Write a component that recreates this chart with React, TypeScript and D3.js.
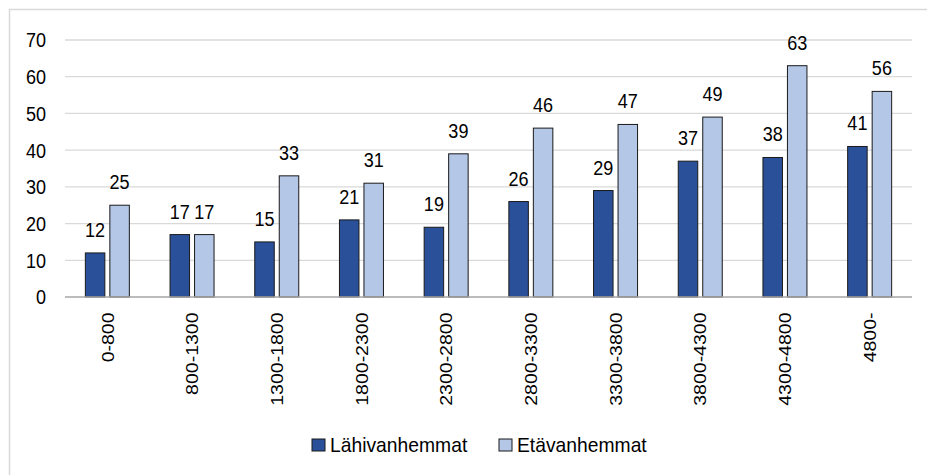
import React from "react";
import * as d3 from "d3";

const categories = ["0-800", "800-1300", "1300-1800", "1800-2300", "2300-2800", "2800-3300", "3300-3800", "3800-4300", "4300-4800", "4800-"];
const lahi = [12, 17, 15, 21, 19, 26, 29, 37, 38, 41];
const eta = [25, 17, 33, 31, 39, 46, 47, 49, 63, 56];
const seriesNames = ["Lähivanhemmat", "Etävanhemmat"];
const yTicks = [0, 10, 20, 30, 40, 50, 60, 70];

const W = 927, H = 475;
const FONT = "'Liberation Sans', Arial, sans-serif";
const COLORS = ["#2a5099", "#b4c7e7"];
const SX = 0.88;

export default function App() {
  const x = d3.scaleBand<string>().domain(categories).range([65, 912]);
  const y = d3.scaleLinear().domain([0, 70]).range([297, 40]);
  const barW = 19.5;
  const gap = 5;
  const series = [lahi, eta];
  return (
    <svg width={W} height={H} style={{ position: "absolute", left: 0, top: 0, background: "#fff" }} fontFamily={FONT}>
      <rect x={9.5} y={9.5} width={W} height={H} fill="none" stroke="#d9d9d9" strokeWidth={1.5} />
      {yTicks.map((t) => (
        <g key={t}>
          {t > 0 && <line x1={65} x2={912} y1={y(t)} y2={y(t)} stroke="#d9d9d9" strokeWidth={1.3} />}
          <text transform={`translate(46,${y(t)}) scale(${SX},1)`} dy="0.36em" textAnchor="end" fontSize={20.5} fill="#000">{t}</text>
        </g>
      ))}
      {categories.map((c, i) => {
        const cx = (x(c) as number) + x.bandwidth() / 2;
        return (
          <g key={c}>
            {series.map((s, k) => {
              const bx = k === 0 ? cx - gap / 2 - barW : cx + gap / 2;
              return (
                <g key={k}>
                  <rect x={bx} y={y(s[i])} width={barW} height={y(0) - y(s[i])} fill={COLORS[k]} stroke="#1a1a1a" strokeWidth={1} />
                  <text transform={`translate(${bx + barW / 2},${y(s[i]) - 16}) scale(${SX},1)`} textAnchor="middle" fontSize={20.5} fill="#000">{s[i]}</text>
                </g>
              );
            })}
            <text transform={`translate(${cx},312.5) scale(${SX},1) rotate(-90)`} dy="0.36em" textAnchor="end" fontSize={19.5} fill="#000">{c}</text>
          </g>
        );
      })}
      <line x1={65} x2={912} y1={y(0)} y2={y(0)} stroke="#a6a6a6" strokeWidth={1.3} />
      {seriesNames.map((n, k) => {
        const lx = k === 0 ? 312 : 499;
        return (
          <g key={n}>
            <rect x={lx} y={439} width={13} height={12} fill={COLORS[k]} stroke="#1a1a1a" strokeWidth={1} />
            <text transform={`translate(${lx + 18},452) scale(0.965,1)`} fontSize={20} fill="#000">{n}</text>
          </g>
        );
      })}
    </svg>
  );
}
